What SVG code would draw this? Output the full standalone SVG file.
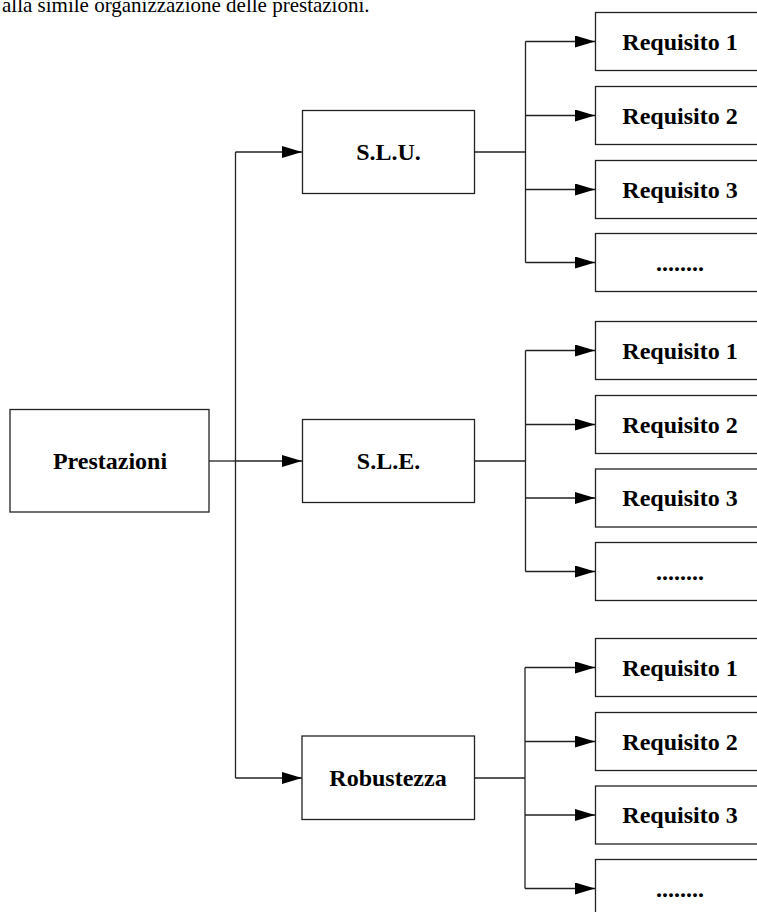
<svg xmlns="http://www.w3.org/2000/svg" width="757" height="912" viewBox="0 0 757 912">
<style>
.box{fill:#fff;stroke:#222;stroke-width:1.3}
.lbl{font-family:"Liberation Serif","Times New Roman",serif;font-weight:bold;font-size:24px;fill:#000;text-anchor:middle}
.ln{fill:none;stroke:#222;stroke-width:1.3}
.top{font-family:"Liberation Serif","Times New Roman",serif;font-size:21px;fill:#000}
</style>
<defs>
<marker id="ah" viewBox="0 0 20 12" refX="20" refY="6" markerWidth="20" markerHeight="12" markerUnits="userSpaceOnUse" orient="auto">
<path d="M0,0 L20,6 L0,12 Z" fill="#000"/>
</marker>
</defs>
<text class="top" x="2" y="12">alla simile organizzazione delle prestazioni.</text>
<g id="connectors">
<path class="ln" d="M209,461 H235.5"/>
<path class="ln" d="M235.5,152 V778"/>
<path class="ln" d="M235.5,152 H302" marker-end="url(#ah)"/>
<path class="ln" d="M235.5,461 H302" marker-end="url(#ah)"/>
<path class="ln" d="M235.5,778 H302" marker-end="url(#ah)"/>
<path class="ln" d="M474.5,152 H525.5 M525.5,41.5 V262.5"/>
<path class="ln" d="M525.5,41.5 H595" marker-end="url(#ah)"/>
<path class="ln" d="M525.5,115.5 H595" marker-end="url(#ah)"/>
<path class="ln" d="M525.5,189.5 H595" marker-end="url(#ah)"/>
<path class="ln" d="M525.5,262.5 H595" marker-end="url(#ah)"/>
<path class="ln" d="M474.5,461 H525.5 M525.5,350.5 V571.5"/>
<path class="ln" d="M525.5,350.5 H595" marker-end="url(#ah)"/>
<path class="ln" d="M525.5,424.5 H595" marker-end="url(#ah)"/>
<path class="ln" d="M525.5,498 H595" marker-end="url(#ah)"/>
<path class="ln" d="M525.5,571.5 H595" marker-end="url(#ah)"/>
<path class="ln" d="M474.5,778 H525 M525,667.5 V888.5"/>
<path class="ln" d="M525,667.5 H595" marker-end="url(#ah)"/>
<path class="ln" d="M525,741.5 H595" marker-end="url(#ah)"/>
<path class="ln" d="M525,815 H595" marker-end="url(#ah)"/>
<path class="ln" d="M525,888.5 H595" marker-end="url(#ah)"/>
</g>
<g id="prestazioni"><rect class="box" x="10" y="409.5" width="199" height="102.5"/><text class="lbl" x="110" y="469">Prestazioni</text></g>
<g id="slu"><rect class="box" x="302.5" y="110.5" width="172" height="83"/><text class="lbl" x="388.5" y="160">S.L.U.</text></g>
<g id="sle"><rect class="box" x="302.5" y="419.5" width="172" height="83"/><text class="lbl" x="388.5" y="469">S.L.E.</text></g>
<g id="robustezza"><rect class="box" x="302" y="736" width="172.5" height="83.5"/><text class="lbl" x="388" y="786">Robustezza</text></g>
<g id="slu-r1"><rect class="box" x="595.5" y="12.5" width="170" height="58"/><text class="lbl" x="680" y="49.5">Requisito 1</text></g>
<g id="slu-r2"><rect class="box" x="595.5" y="86.5" width="170" height="58"/><text class="lbl" x="680" y="123.5">Requisito 2</text></g>
<g id="slu-r3"><rect class="box" x="595.5" y="160.5" width="170" height="58"/><text class="lbl" x="680" y="197.5">Requisito 3</text></g>
<g id="slu-r4"><rect class="box" x="595.5" y="233.5" width="170" height="58"/><text class="lbl" x="680" y="270.5">........</text></g>
<g id="sle-r1"><rect class="box" x="595.5" y="321.5" width="170" height="58"/><text class="lbl" x="680" y="358.5">Requisito 1</text></g>
<g id="sle-r2"><rect class="box" x="595.5" y="395.5" width="170" height="58"/><text class="lbl" x="680" y="432.5">Requisito 2</text></g>
<g id="sle-r3"><rect class="box" x="595.5" y="469" width="170" height="58"/><text class="lbl" x="680" y="506">Requisito 3</text></g>
<g id="sle-r4"><rect class="box" x="595.5" y="542.5" width="170" height="58"/><text class="lbl" x="680" y="579.5">........</text></g>
<g id="rob-r1"><rect class="box" x="595.5" y="638.5" width="170" height="58"/><text class="lbl" x="680" y="675.5">Requisito 1</text></g>
<g id="rob-r2"><rect class="box" x="595.5" y="712.5" width="170" height="58"/><text class="lbl" x="680" y="749.5">Requisito 2</text></g>
<g id="rob-r3"><rect class="box" x="595.5" y="786" width="170" height="58"/><text class="lbl" x="680" y="823">Requisito 3</text></g>
<g id="rob-r4"><rect class="box" x="595.5" y="859.5" width="170" height="58"/><text class="lbl" x="680" y="896.5">........</text></g>
</svg>
